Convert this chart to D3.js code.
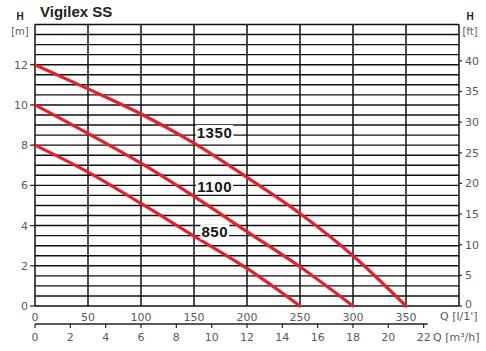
<!DOCTYPE html>
<html>
<head>
<meta charset="utf-8">
<script src="https://cdn.jsdelivr.net/npm/d3@7"></script>
<style>
  html, body { margin: 0; padding: 0; background: #fff; }
  svg { display: block; }
</style>
</head>
<body>
<svg id="chart" width="486" height="351"></svg>
<script>
// ---- data ----
const title = "Vigilex SS";
const seriesNames = ["1350", "1100", "850"];
const q1350 = [0, 50, 100, 150, 200, 250, 300, 350];
const h1350 = [12, 10.8, 9.55, 8.1, 6.4, 4.6, 2.5, 0];
const q1100 = [0, 50, 100, 150, 200, 250, 300];
const h1100 = [10, 8.58, 7.1, 5.45, 3.7, 1.95, 0];
const q850 = [0, 50, 100, 150, 200, 250];
const h850 = [8, 6.66, 5.1, 3.48, 1.87, 0];
const labelPos = [ // [Q l/min, H m] where the series label starts
  [152.5, 8.62], [153, 5.95], [157, 3.68]
];
const qTicks = [0, 50, 100, 150, 200, 250, 300, 350];
const qGrid = [0, 50, 100, 150, 200, 250, 300, 350, 400];
const m3hTicks = [0, 2, 4, 6, 8, 10, 12, 14, 16, 18, 20, 22];
const hTicks = [0, 2, 4, 6, 8, 10, 12];
const ftTicks = [0, 5, 10, 15, 20, 25, 30, 35, 40];

// ---- layout ----
const svg = d3.select("#chart");
const L = 35, R = 459, T = 24.5, B = 306;
const x = d3.scaleLinear().domain([0, 400]).range([L, R]);
const xm3 = d3.scaleLinear().domain([0, 24]).range([L, R]);
const y = d3.scaleLinear().domain([0, 14]).range([B, T]);
const yft = d3.scaleLinear().domain([0, 14 / 0.3048]).range([B, T]);

const labelFont = "'DejaVu Sans', Verdana, sans-serif";
const gray = "#5a5a5a";

// grid
const gridH = d3.range(0, 14.01, 0.5);
svg.append("g").selectAll("line").data(gridH).join("line")
  .attr("x1", L).attr("x2", R)
  .attr("y1", d => y(d)).attr("y2", d => y(d))
  .attr("stroke", "#111").attr("stroke-width", 1.4);
svg.append("g").selectAll("line").data(qGrid).join("line")
  .attr("x1", d => x(d)).attr("x2", d => x(d))
  .attr("y1", T).attr("y2", B)
  .attr("stroke", "#111").attr("stroke-width", 1.5);

// curves
const line = d3.line().x(d => x(d[0])).y(d => y(d[1])).curve(d3.curveMonotoneX);
const series = [
  d3.zip(q1350, h1350),
  d3.zip(q1100, h1100),
  d3.zip(q850, h850)
];
svg.append("g").selectAll("path").data(series).join("path")
  .attr("d", line)
  .attr("fill", "none")
  .attr("stroke", "#e5202b")
  .attr("stroke-width", 3.2)
  .attr("stroke-linecap", "round");

// series labels
const lg = svg.append("g");
seriesNames.forEach((name, i) => {
  const px = x(labelPos[i][0]), py = y(labelPos[i][1]);
  const t = lg.append("text")
    .attr("x", px).attr("y", py)
    .attr("dy", "0.36em")
    .attr("font-family", "'Liberation Sans', Arial, sans-serif")
    .attr("font-weight", "bold")
    .attr("font-size", 15)
    .attr("letter-spacing", 0.6)
    .attr("fill", "#151515")
    .text(name);
  const bb = t.node().getBBox();
  lg.insert("rect", () => t.node())
    .attr("x", bb.x - 1).attr("y", bb.y + 1)
    .attr("width", bb.width + 2).attr("height", bb.height - 2)
    .attr("fill", "#fff");
});

// left axis (m)
const la = svg.append("g");
la.selectAll("line").data(hTicks).join("line")
  .attr("x1", L - 5).attr("x2", L)
  .attr("y1", d => y(d)).attr("y2", d => y(d))
  .attr("stroke", "#222").attr("stroke-width", 1.2);
la.selectAll("text").data(hTicks).join("text")
  .attr("x", L - 7).attr("y", d => y(d)).attr("dy", "0.36em")
  .attr("text-anchor", "end")
  .attr("font-family", labelFont).attr("font-size", 11).attr("fill", gray)
  .text(d => d);

// right axis (ft)
const ra = svg.append("g");
ra.selectAll("line").data(ftTicks).join("line")
  .attr("x1", R).attr("x2", R + 3)
  .attr("y1", d => yft(d)).attr("y2", d => yft(d))
  .attr("stroke", "#222").attr("stroke-width", 1.2);
ra.selectAll("text").data(ftTicks).join("text")
  .attr("x", R + 6).attr("y", d => yft(d) - (d === 0 ? 2 : 0)).attr("dy", "0.36em")
  .attr("text-anchor", "start")
  .attr("font-family", labelFont).attr("font-size", 11).attr("fill", gray)
  .text(d => d);

// bottom l/min labels
svg.append("g").selectAll("text").data(qTicks).join("text")
  .attr("x", d => x(d)).attr("y", 317).attr("dy", "0.36em")
  .attr("text-anchor", "middle")
  .attr("font-family", labelFont).attr("font-size", 11).attr("fill", gray)
  .text(d => d);

// m3/h axis
const ma = svg.append("g");
ma.append("line").attr("x1", L).attr("x2", xm3(22) + 4)
  .attr("y1", 324).attr("y2", 324)
  .attr("stroke", "#222").attr("stroke-width", 1.3);
ma.selectAll("line.t").data(m3hTicks).join("line").attr("class", "t")
  .attr("x1", d => xm3(d)).attr("x2", d => xm3(d))
  .attr("y1", 324).attr("y2", 328)
  .attr("stroke", "#222").attr("stroke-width", 1.2);
ma.selectAll("text").data(m3hTicks).join("text")
  .attr("x", d => xm3(d)).attr("y", 337).attr("dy", "0.36em")
  .attr("text-anchor", "middle")
  .attr("font-family", labelFont).attr("font-size", 11).attr("fill", gray)
  .text(d => d);

// axis titles
const small = (txt, xx, yy, opts = {}) => svg.append("text")
  .attr("x", xx).attr("y", yy).attr("dy", "0.36em")
  .attr("text-anchor", opts.anchor || "start")
  .attr("font-family", opts.family || labelFont)
  .attr("font-weight", opts.weight || "normal")
  .attr("font-size", opts.size || 10)
  .attr("fill", opts.fill || gray)
  .text(txt);

small("Q [l/1']", 440, 316, {size: 11});
small("Q [m\u00B3/h]", 433, 337, {size: 11});
small("H", 20, 16, {anchor: "middle", weight: "bold", size: 10, fill: "#222", family: "'Liberation Sans', Arial, sans-serif"});
small("[m]", 20, 31, {anchor: "middle", size: 10});
small("H", 470, 16, {anchor: "middle", weight: "bold", size: 10, fill: "#222", family: "'Liberation Sans', Arial, sans-serif"});
small("[ft]", 470, 31, {anchor: "middle", size: 10});

// title
svg.append("text").attr("x", 40).attr("y", 17)
  .attr("font-family", "'Liberation Sans', Arial, sans-serif")
  .attr("font-weight", "bold").attr("font-size", 15)
  .attr("fill", "#222")
  .text(title);
</script>
</body>
</html>
